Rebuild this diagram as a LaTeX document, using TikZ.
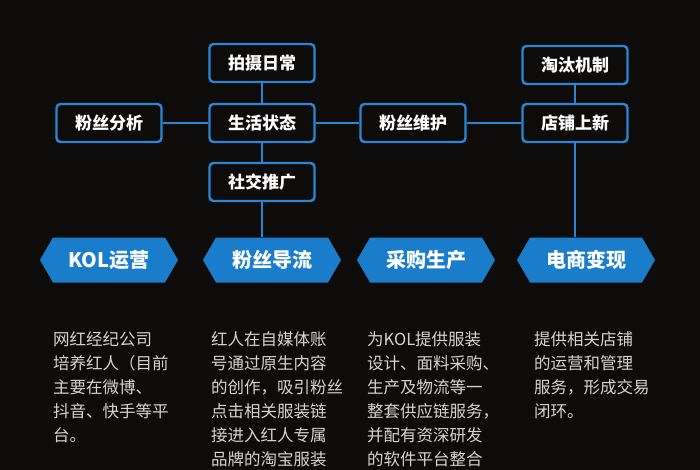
\documentclass[tikz,border=0pt]{standalone}
\usepackage{fontspec}
\setmainfont{Noto Sans CJK SC}
\usetikzlibrary{calc,shapes.symbols}
\definecolor{bgdark}{HTML}{0E0B0B}
\definecolor{linkblue}{HTML}{2A86D4}
\definecolor{hexblue}{HTML}{1A7DCC}
\definecolor{bodygray}{HTML}{D4D4D4}
\tikzset{
  stepbox/.style={draw=linkblue, line width=2.4pt, rounded corners=4pt,
    fill=bgdark, text=white, font=\bfseries\fontsize{17}{17}\selectfont,
    minimum width=105pt, minimum height=38pt},
  stagehex/.style={signal, signal to=west and east, signal pointer angle=120,
    fill=hexblue, text=white, font=\bfseries\fontsize{20}{20}\selectfont,
    minimum width=138pt, minimum height=45pt, inner xsep=2pt},
  bodytext/.style={anchor=north west, align=left, inner sep=0pt, text=bodygray,
    font=\fontsize{16.5}{24}\selectfont},
  link/.style={draw=linkblue, line width=2.2pt}
}

\begin{document}
\begin{tikzpicture}[x=1pt,y=-1pt]
  \fill
  [bgdark]
  (0,0) rectangle (700,470);
  \useasboundingbox (0,0) rectangle (700,470);

  % top row of boxes
  \node
  [stepbox]
  (paishe) at (262,63) {拍摄日常};

  \node
  [stepbox]
  (shenghuo) at (262,123) {生活状态};

  \node
  [stepbox]
  (fenxi) at (109,123) {粉丝分析};

  \node
  [stepbox]
  (shejiao) at (262,182) {社交推广};

  \node
  [stepbox]
  (weihu) at (413,123) {粉丝维护};

  \node
  [stepbox]
  (taotai) at (575,65) {淘汰机制};

  \node
  [stepbox]
  (shangxin) at (575,123) {店铺上新};

  % stages
  \node
  [stagehex]
  (kol) at (109,260) {KOL运营};

  \node
  [stagehex]
  (daoliu) at (272,260) {粉丝导流};

  \node
  [stagehex]
  (caigou) at (426,260) {采购生产};

  \node
  [stagehex]
  (bianxian) at (586,260) {电商变现};

  % connectors
  \draw
  [link]
  (fenxi.east) -- (shenghuo.west);

  \draw
  [link]
  (shenghuo.east) -- (weihu.west);

  \draw
  [link]
  (weihu.east) -- (shangxin.west);

  \draw
  [link]
  (paishe.south) -- (shenghuo.north);

  \draw
  [link]
  (shenghuo.south) -- (shejiao.north);

  \draw
  [link]
  (taotai.south) -- (shangxin.north);

  \draw
  [link]
  (shejiao.south) -- (shejiao.south |- daoliu.north);

  \draw
  [link]
  (shangxin.south) -- (shangxin.south |- bianxian.north);

  % descriptions
  \node
  [bodytext]
  (txtkol) at (53,331)
  {网红经纪公司\\培养红人（目前\\主要在微博、\\抖音、快手等平\\台。};

  \node
  [bodytext]
  (txtdaoliu) at (211,331)
  {红人在自媒体账\\号通过原生内容\\的创作，吸引粉丝\\点击相关服装链\\接进入红人专属\\品牌的淘宝服装};

  \node
  [bodytext]
  (txtcaigou) at (367,331)
  {为KOL提供服装\\设计、面料采购、\\生产及物流等一\\整套供应链服务，\\并配有资深研发\\的软件平台整合};

  \node
  [bodytext]
  (txtbianxian) at (534,331)
  {提供相关店铺\\的运营和管理\\服务，形成交易\\闭环。};
\end{tikzpicture}
\end{document}
